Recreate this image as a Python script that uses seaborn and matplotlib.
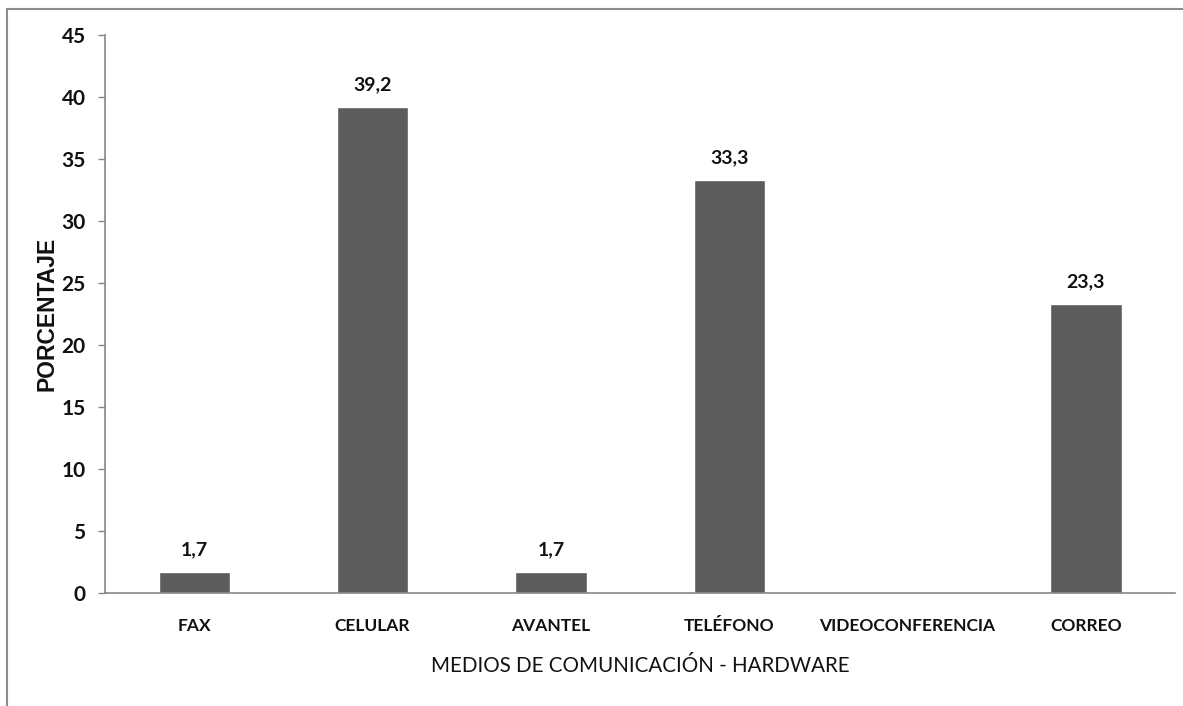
import matplotlib
matplotlib.use("Agg")
import matplotlib.pyplot as plt
from matplotlib.patches import Rectangle
from matplotlib.font_manager import FontProperties
import seaborn as sns
import pandas as pd

categorias = ["FAX", "CELULAR", "AVANTEL", "TELÉFONO", "VIDEOCONFERENCIA", "CORREO"]
porcentajes = [1.7, 39.2, 1.7, 33.3, 0.0, 23.3]
etiquetas = ["1,7", "39,2", "1,7", "33,3", "", "23,3"]
marcas_y = [0, 5, 10, 15, 20, 25, 30, 35, 40, 45]

sns.set_theme(style="white")
plt.rcParams["font.family"] = ["Lato", "DejaVu Sans"]

df = pd.DataFrame({"medio": categorias, "valor": porcentajes})

fig = plt.figure(figsize=(11.83, 7.06), dpi=100)
ax = fig.add_axes([0.0888, 0.1601, 0.9045, 0.7903])

sns.barplot(data=df, x="medio", y="valor", color="#5c5c5c", saturation=1,
            width=0.4, ax=ax, order=categorias)

ax.set_ylim(0, 45)
ax.set_yticks(marcas_y)
ax.set_xlim(-0.5, len(categorias) - 0.5)

for lbl, barra in zip(etiquetas, ax.patches):
    if lbl:
        ax.annotate(lbl, (barra.get_x() + barra.get_width() / 2, barra.get_height()),
                    xytext=(0, 10), textcoords="offset points",
                    ha="center", va="bottom", fontsize=14, fontweight="bold",
                    color="#111111")

sns.despine(ax=ax)
for lado in ("left", "bottom"):
    ax.spines[lado].set_color("#878787")
    ax.spines[lado].set_linewidth(1.2)

ax.tick_params(axis="y", which="both", left=True, length=5, width=1.0,
               color="#878787", pad=9, labelsize=15)
ax.tick_params(axis="x", length=0, pad=18, labelsize=12.5)
for t in ax.get_yticklabels() + ax.get_xticklabels():
    t.set_fontweight("bold")
    t.set_color("#111111")

ax.set_xlabel("MEDIOS DE COMUNICACIÓN - HARDWARE", fontsize=14.8,
              color="#111111", labelpad=16)
ax.set_ylabel("PORCENTAJE", color="#111111", labelpad=2,
              fontproperties=FontProperties(family="Liberation Sans",
                                            weight="bold", size=16.5))

# thin grey frame around the chart area
fig.patches.append(Rectangle((6.5 / 1183, -0.2), 1.2, 0.2 + (706 - 8.5) / 706,
                             transform=fig.transFigure, fill=False,
                             edgecolor="#8c8c8c", linewidth=1.5))

fig.savefig("out.png", dpi=100)
